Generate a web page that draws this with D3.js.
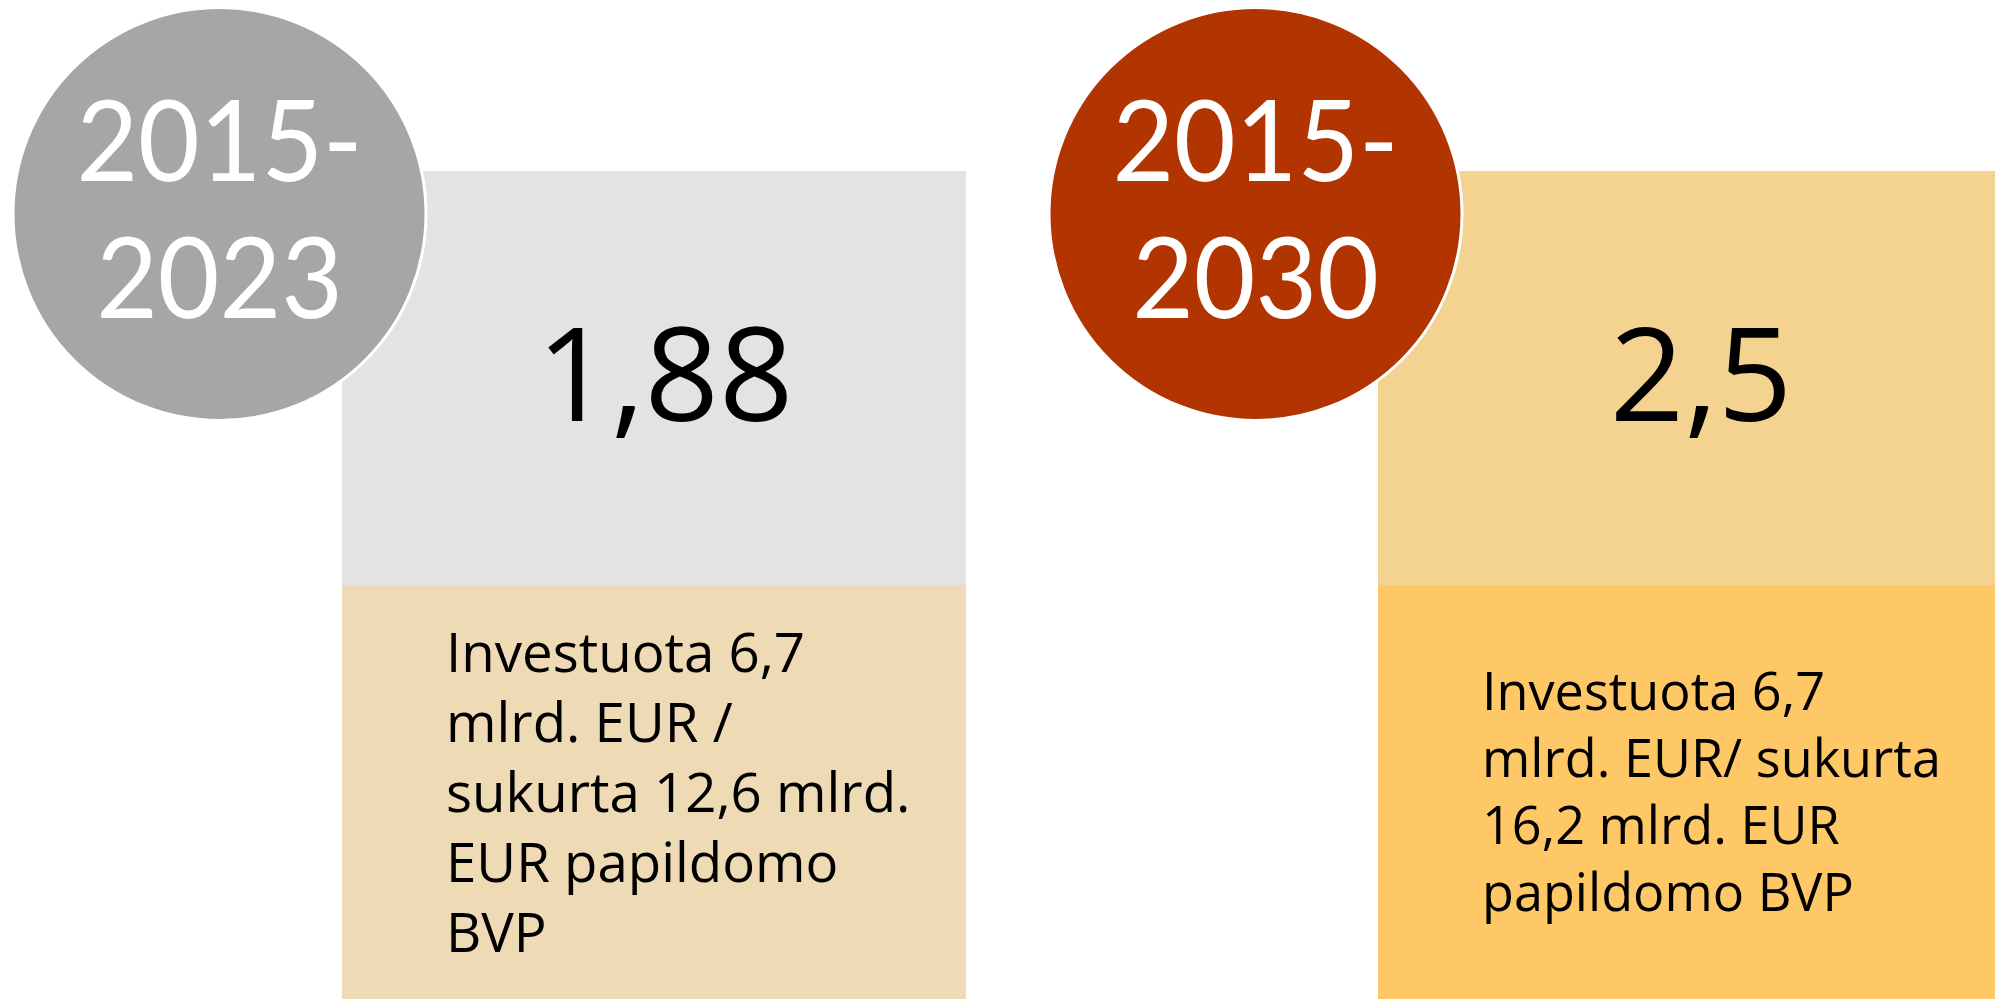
<!DOCTYPE html>
<html>
<head>
<meta charset="utf-8">
<script src="https://cdn.jsdelivr.net/npm/d3@7"></script>
<style>
  html, body { margin: 0; padding: 0; background: #ffffff; }
  svg { display: block; }
</style>
</head>
<body>
<svg id="chart" width="1995" height="999"></svg>
<script>
// ---- data ----
const periods = ["2015-2023", "2015-2030"];
const periodLines = [["2015-", "2023"], ["2015-", "2030"]];
const values = ["1,88", "2,5"];
const descriptions = [
  ["Investuota 6,7", "mlrd. EUR /", "sukurta 12,6 mlrd.", "EUR papildomo", "BVP"],
  ["Investuota 6,7", "mlrd. EUR/ sukurta", "16,2 mlrd. EUR", "papildomo BVP"]
];

// ---- style ----
const circleFill = ["#a6a6a6", "#b23400"];
const topFill = ["#e3e3e3", "#f4d290"];
const bottomFill = ["#eedab4", "#fec866"];
const descScale = [1, 0.955];
const FONT = "'Open Sans', Lato, sans-serif";
const CAP = 0.714; // cap-height ratio of Open Sans
const YEAR_FONT = "Lato, 'Open Sans', sans-serif";
const YEAR_CAP = 0.7165; // cap-height ratio of Lato
const yearSX = 0.945, valueSX = 1.0, descSX = 1.0;

// ---- layout ----
const W = 1995, H = 999;
const x = d3.scaleBand().domain(periods).range([0, 2072]).paddingInner(0).paddingOuter(0);
const geo = {
  circleCx: 219.5, circleCy: 214, r: 206.5,
  rectX: 342, rectW: 624, rectTop: 171, split: 585, rectBottom: H,
  valueX: 665, descX: 446
};

const svg = d3.select("#chart");

const panels = svg.selectAll("g.panel")
  .data(periods.map((p, i) => ({
    period: p, lines: periodLines[i], value: values[i], desc: descriptions[i], i
  })))
  .join("g")
  .attr("class", "panel")
  .attr("transform", d => `translate(${x(d.period)},0)`);

// top rectangle
panels.append("rect")
  .attr("x", geo.rectX).attr("y", geo.rectTop)
  .attr("width", geo.rectW).attr("height", geo.split - geo.rectTop)
  .attr("fill", d => topFill[d.i]);

// bottom rectangle
panels.append("rect")
  .attr("x", geo.rectX).attr("y", geo.split)
  .attr("width", geo.rectW).attr("height", geo.rectBottom - geo.split)
  .attr("fill", d => bottomFill[d.i]);

// big value
const valueDigitH = 93;
panels.append("g")
  .attr("transform", `translate(${geo.valueX},0) scale(${valueSX},1)`)
  .append("text")
  .attr("x", 0)
  .attr("y", 421)
  .attr("text-anchor", "middle")
  .attr("font-family", FONT)
  .attr("font-size", valueDigitH / CAP)
  .attr("fill", "#000")
  .text(d => d.value);

// description text, vertically centred in bottom box
panels.each(function (d) {
  const g = d3.select(this).append("g")
    .attr("transform", `translate(${geo.descX},0) scale(${descSX},1)`);
  const s = descScale[d.i];
  const capH = 39 * s, lh = 70 * s;
  const n = d.desc.length;
  const mid = (geo.split + geo.rectBottom) / 2;
  const b1 = mid - ((n - 1) * lh - capH) / 2;
  g.selectAll("text")
    .data(d.desc)
    .join("text")
    .attr("font-family", FONT)
    .attr("font-size", capH / CAP)
    .attr("fill", "#000")
    .attr("x", 0)
    .attr("y", (t, j) => b1 + j * lh)
    .text(t => t);
});

// circle
panels.append("circle")
  .attr("cx", geo.circleCx).attr("cy", geo.circleCy).attr("r", geo.r)
  .attr("fill", d => circleFill[d.i])
  .attr("stroke", "#fff").attr("stroke-width", 3);

// period text in circle
const yearDigitH = 80.6, yearLH = 137;
panels.append("g")
  .attr("transform", `translate(${geo.circleCx},0) scale(${yearSX},1)`)
  .selectAll("text")
  .data(d => d.lines)
  .join("text")
  .attr("font-family", YEAR_FONT)
  .attr("font-size", yearDigitH / YEAR_CAP)
  .attr("fill", "#fff")
  .attr("text-anchor", "middle")
  .attr("x", 0)
  .attr("y", (t, j) => 180.6 + j * yearLH)
  .text(t => t);
</script>
</body>
</html>
